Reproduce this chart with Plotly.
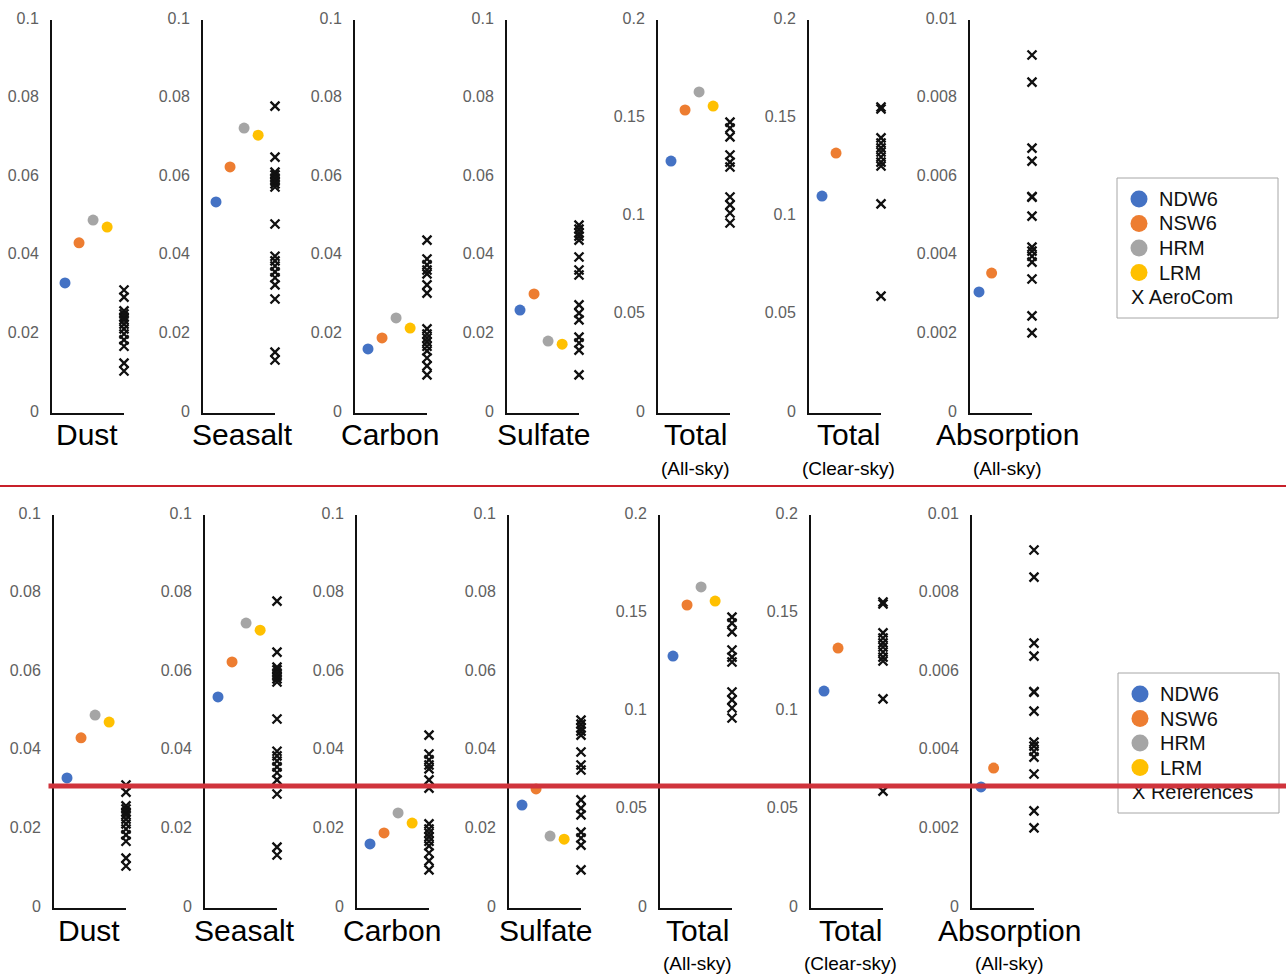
import plotly.graph_objects as go

W, H = 1286, 979

# ---------------- data ----------------
categories = ["Dust", "Seasalt", "Carbon", "Sulfate", "Total", "Total", "Absorption"]
subtitles = ["", "", "", "", "(All-sky)", "(Clear-sky)", "(All-sky)"]
model_names = ["NDW6", "NSW6", "HRM", "LRM"]
model_colors = ["#4472C4", "#ED7D31", "#A5A5A5", "#FFC000"]

# model values per category (None = not available)
ndw6 = [0.0331, 0.0537, 0.0163, 0.0262, 0.1282, 0.1104, 0.00308]
nsw6 = [0.0433, 0.0626, 0.0191, 0.0303, 0.1542, 0.1323, 0.00356]
hrm = [0.0491, 0.0725, 0.0242, 0.0183, 0.1634, None, None]
lrm = [0.0473, 0.0707, 0.0216, 0.0175, 0.1562, None, None]

# reference (AeroCom) estimates per category
ref_dust = [0.0313, 0.0295, 0.0260, 0.0252, 0.0244, 0.0237, 0.0226, 0.0214,
            0.0201, 0.0186, 0.0170, 0.0127, 0.0107]
ref_seasalt = [0.0781, 0.0651, 0.0613, 0.0606, 0.0598, 0.0590, 0.0583, 0.0575,
               0.0481, 0.0399, 0.0387, 0.0374, 0.0359, 0.0344, 0.0326, 0.0290,
               0.0155, 0.0135]
ref_carbon = [0.0440, 0.0392, 0.0377, 0.0364, 0.0354, 0.0326, 0.0305, 0.0214,
              0.0201, 0.0191, 0.0181, 0.0170, 0.0158, 0.0140, 0.0120, 0.0097]
ref_sulfate = [0.0478, 0.0468, 0.0458, 0.0450, 0.0440, 0.0397, 0.0364, 0.0351,
               0.0275, 0.0254, 0.0237, 0.0193, 0.0178, 0.0160, 0.0097]
ref_total_all = [0.148, 0.145, 0.1405, 0.1313, 0.1277, 0.1252, 0.1099, 0.1059,
                 0.1018, 0.0967]
ref_total_clear = [0.1557, 0.1547, 0.140, 0.1374, 0.1349, 0.1328, 0.1303, 0.1277,
                   0.1257, 0.1064, 0.0595]
ref_absorption = [0.00911, 0.00842, 0.00674, 0.00641, 0.00551, 0.00549, 0.00501,
                  0.00422, 0.00412, 0.00399, 0.00384, 0.00341, 0.00247, 0.00204]
references = [ref_dust, ref_seasalt, ref_carbon, ref_sulfate,
              ref_total_all, ref_total_clear, ref_absorption]

tick_labels_01 = ["0", "0.02", "0.04", "0.06", "0.08", "0.1"]
tick_labels_02 = ["0", "0.05", "0.1", "0.15", "0.2"]
tick_labels_001 = ["0", "0.002", "0.004", "0.006", "0.008", "0.01"]
tick_labels = [tick_labels_01] * 4 + [tick_labels_02] * 2 + [tick_labels_001]
legend_last = ["X AeroCom", "X References"]

# ---------------- layout geometry (pixels) ----------------
panel_left = [52, 203, 355, 507, 658, 809, 970]
panel_right = [124, 275, 427, 579, 730, 881, 1032]
panel_xmin = [0.075] * 6 + [0.287]
label_cx = [87, 242, 390, 543, 695, 848, 1007]
REF_X = 5.2
panels = [  # (x shift, top px of axis, bottom px of axis)
    (0, 20, 413),
    (2, 515, 908),
]

def px(x):
    return x / W

def py(y):
    return 1 - y / H

fig = go.Figure()
layout = dict(
    template="none",
    width=W, height=H, margin=dict(l=0, r=0, t=0, b=0, pad=0, autoexpand=False),
    paper_bgcolor="white", plot_bgcolor="white", showlegend=False,
    font=dict(family="Liberation Sans, Arial, sans-serif"),
)
annotations = []
shapes = []

ax = 0
for p, (dx, top, bot) in enumerate(panels):
    for i in range(7):
        ax += 1
        xa = "x" if ax == 1 else f"x{ax}"
        ya = "y" if ax == 1 else f"y{ax}"
        ticks = tick_labels[i]
        tickvals = [float(t) for t in ticks]
        ymax = tickvals[-1]

        layout["xaxis" if ax == 1 else f"xaxis{ax}"] = dict(
            domain=[px(panel_left[i] + dx), px(panel_right[i] + dx)],
            range=[panel_xmin[i], REF_X], anchor=ya, automargin=False,
            showline=True, linecolor="#111", linewidth=2,
            showgrid=False, zeroline=False, showticklabels=False, ticks="",
        )
        layout["yaxis" if ax == 1 else f"yaxis{ax}"] = dict(
            domain=[py(bot), py(top)], range=[0, ymax], anchor=xa, automargin=False,
            showline=True, linecolor="#111", linewidth=2,
            showgrid=False, zeroline=False, ticks="",
            tickvals=tickvals, ticktext=ticks,
            ticklabelstandoff=8, ticklabelshift=-2,
            tickfont=dict(size=16, color="#606060"),
        )

        # model values
        series = [ndw6, nsw6, hrm, lrm]
        for k in range(4):
            v = series[k][i]
            if v is None:
                continue
            fig.add_trace(go.Scatter(
                x=[k + 1], y=[v], xaxis=xa, yaxis=ya, mode="markers",
                marker=dict(size=11, color=model_colors[k], line=dict(width=0)),
                cliponaxis=False, name=model_names[k], hoverinfo="y",
            ))
        refs = references[i]
        fig.add_trace(go.Scatter(
            x=[REF_X] * len(refs), y=refs, xaxis=xa, yaxis=ya, mode="markers",
            marker=dict(symbol="x-thin", size=9, color="#111",
                        line=dict(width=2.3, color="#111")),
            cliponaxis=False, name=legend_last[p][2:], hoverinfo="y",
        ))

        # category label and subtitle
        annotations.append(dict(
            x=px(label_cx[i] + dx), y=py(bot + 22), xref="paper", yref="paper",
            text=categories[i], showarrow=False, xanchor="center", yanchor="middle",
            font=dict(size=30, color="black"),
        ))
        if subtitles[i]:
            annotations.append(dict(
                x=px(label_cx[i] + dx), y=py(bot + 55), xref="paper", yref="paper",
                text=subtitles[i], showarrow=False, xanchor="center", yanchor="middle",
                font=dict(size=19, color="black"),
            ))

    # legend box
    lx0, lx1 = 1117 + dx / 2, 1278 + dx / 2
    ly0 = top + 158
    shapes.append(dict(type="rect", xref="paper", yref="paper",
                       x0=px(lx0), x1=px(lx1), y0=py(ly0), y1=py(ly0 + 140),
                       line=dict(color="#a6a6a6", width=1), fillcolor="white",
                       layer="below"))
    for k in range(4):
        cy = ly0 + 21 + k * 24.5
        cx = 1139 + dx / 2
        shapes.append(dict(type="circle", xref="paper", yref="paper",
                           x0=px(cx - 8.5), x1=px(cx + 8.5),
                           y0=py(cy + 8.5), y1=py(cy - 8.5),
                           fillcolor=model_colors[k], line=dict(width=0)))
        annotations.append(dict(
            x=px(1157 + dx / 2), y=py(cy), xref="paper", yref="paper",
            text=model_names[k], showarrow=False, xanchor="left", yanchor="middle",
            font=dict(size=20, color="#111"),
        ))
    annotations.append(dict(
        x=px(1129 + dx / 2), y=py(ly0 + 21 + 4 * 24.5), xref="paper", yref="paper",
        text=legend_last[p], showarrow=False, xanchor="left", yanchor="middle",
        font=dict(size=20, color="#111"),
    ))

# separator between the two panels
shapes.append(dict(type="line", xref="paper", yref="paper",
                   x0=0, x1=1, y0=py(486), y1=py(486),
                   line=dict(color="#c8202a", width=2)))
# marker bar drawn over the lower panel
annotations.append(dict(
    x=px(48), y=py(786), xref="paper", yref="paper", text=" ",
    showarrow=False, xanchor="left", yanchor="middle",
    width=W - 48, height=4, bgcolor="#d0343c", borderpad=0,
    font=dict(size=2),
))

layout["annotations"] = annotations
layout["shapes"] = shapes
fig.update_layout(**layout)
fig.write_html("out.html")
